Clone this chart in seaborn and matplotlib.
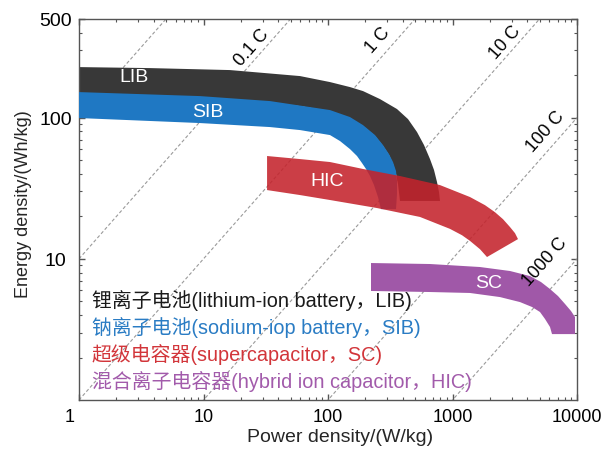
import numpy as np
import pandas as pd
import matplotlib
matplotlib.use("Agg")
import matplotlib.pyplot as plt
from matplotlib.transforms import ScaledTranslation
import seaborn as sns

# ---- Ragone data: boundary edges of each device region (P in W/kg, E in Wh/kg) ----
lib_upper_p = [1, 3.72, 16.3, 59.6, 103.8, 150.2, 191.1, 261.6, 358.3, 439.2, 518.7,
               590.3, 659.6, 710.3, 750.8, 779.1, 793.6]
lib_upper_e = [228.2, 224.5, 217.4, 197.1, 178.7, 164.7, 154.3, 135.4, 115.1, 97.7, 79.1,
               64.0, 50.9, 42.6, 35.0, 29.7, 25.7]
lib_lower_p = [1, 16.3, 59.6, 103.8, 150.2, 191.1, 238.5, 276.6, 309.0, 332.8, 351.8,
               365.0, 378.7]
lib_lower_e = [144.6, 135.4, 120.8, 111.4, 99.4, 87.2, 74.1, 62.9, 54.3, 46.9, 39.9,
               33.9, 25.7]

sib_upper_p = [1, 9.37, 34.2, 103.8, 150.2, 191.1, 238.5, 276.6, 309.0, 332.8, 351.8,
               358.3, 358.3, 351.8]
sib_upper_e = [151.8, 142.2, 131.1, 113.2, 101.0, 88.6, 75.3, 64.0, 55.2, 48.5, 41.9,
               35.6, 28.8, 22.5]
sib_lower_p = [1, 9.37, 34.2, 59.6, 103.8, 124.9, 150.2, 171.0, 187.6, 202.0, 217.5,
               234.2, 252.1, 266.5]
sib_lower_e = [99.4, 91.6, 85.8, 81.7, 75.3, 68.3, 59.9, 53.5, 47.7, 43.3, 38.6,
               33.3, 27.4, 22.5]

hic_upper_p = [32.4, 59.6, 103.8, 191.1, 378.7, 793.6, 1382, 1824, 2194, 2544, 2896,
               3177, 3358]
hic_upper_e = [53.5, 50.9, 48.5, 43.3, 38.6, 33.3, 27.4, 24.0, 21.4, 19.1, 16.8,
               15.2, 13.8]
hic_lower_p = [32.4, 59.6, 103.8, 247.5, 548.3, 954.8, 1192, 1382, 1663, 1893]
hic_lower_e = [30.7, 28.3, 26.1, 22.9, 19.8, 16.3, 14.7, 13.4, 11.7, 10.3]

sc_upper_p = [221.5, 659.6, 1663, 2896, 4193, 5138, 6070, 7038, 8010, 8949, 9637, 9637]
sc_upper_e = [9.34, 9.19, 8.75, 8.20, 7.55, 6.85, 6.11, 5.45, 4.79, 4.27, 3.87, 2.93]
sc_lower_p = [221.5, 659.6, 1382, 2407, 3485, 4351, 5044, 5533, 6070, 6299]
sc_lower_e = [5.92, 5.82, 5.73, 5.36, 4.94, 4.56, 4.20, 3.75, 3.29, 2.93]

# C-rate guide lines (E = P / C)
c_rates = [0.01, 0.1, 1, 10, 100, 1000]
c_labels = ["0.1 C", "1 C", "10 C", "100 C", "1000 C"]

x_ticks = [1, 10, 100, 1000, 10000]
x_tick_labels = ["1", "10", "100", "1000", "10000"]
y_ticks = [10, 100, 500]
y_tick_labels = ["10", "100", "500"]

legend_lines = [
    "锂离子电池(lithium-ion battery，LIB)",
    "钠离子电池(sodium-iop battery，SIB)",
    "超级电容器(supercapacitor，SC)",
    "混合离子电容器(hybrid ion capacitor，HIC)",
]

# ---- styling ----
sns.set_theme(style="ticks")
plt.rcParams["font.family"] = ["Liberation Sans", "Noto Sans CJK SC"]
plt.rcParams["axes.unicode_minus"] = False

col_lib = "#383838"
col_sib = "#1f78c3"
col_hic = "#c4232c"
col_sc = "#a058a8"

fig = plt.figure(figsize=(6.1, 4.52), dpi=100)
ax = fig.add_axes([79 / 610, 1 - 401 / 452, 498 / 610, 381 / 452])
ax.set_xscale("log")
ax.set_yscale("log")
ax.set_xlim(1, 10000)
ax.set_ylim(1, 500)

# dashed C-rate lines
p_span = np.array([1.0, 10000.0])
rate_df = pd.concat(
    [pd.DataFrame({"P": p_span, "E": p_span / c, "rate": str(c)}) for c in c_rates],
    ignore_index=True,
)
for r, sub in rate_df.groupby("rate"):
    sns.lineplot(data=sub, x="P", y="E", ax=ax, color="#9a9a9a", lw=0.8,
                 linestyle=(0, (3, 2)), zorder=1, legend=False)


def band(up_p, up_e, lo_p, lo_e, color, alpha=1.0, z=2):
    xs = list(up_p) + list(lo_p)[::-1]
    ys = list(up_e) + list(lo_e)[::-1]
    ax.fill(xs, ys, color=color, lw=0, alpha=alpha, zorder=z)


band(lib_upper_p, lib_upper_e, lib_lower_p, lib_lower_e, col_lib, z=2)
band(sib_upper_p, sib_upper_e, sib_lower_p, sib_lower_e, col_sib, z=3)
band(sc_upper_p, sc_upper_e, sc_lower_p, sc_lower_e, col_sc, z=3)
band(hic_upper_p, hic_upper_e, hic_lower_p, hic_lower_e, col_hic, alpha=0.88, z=4)

# region names
lbl_kw = dict(color="white", fontsize=14, ha="center", va="center", zorder=6)
ax.text(2.77, 197, "LIB", **lbl_kw)
ax.text(10.9, 111, "SIB", **lbl_kw)
ax.text(98, 36.1, "HIC", **lbl_kw)
ax.text(1963, 6.85, "SC", **lbl_kw)

# C-rate labels, rotated along the guide lines
ax_w = 498.0 / 4.0            # px per decade in x
ax_h = 381.0 / np.log10(500)  # px per decade in y
angle = np.degrees(np.arctan2(ax_h, ax_w))
c_pos = [(24.5, 316), (252, 355), (2641, 343), (5637, 80.4), (5531, 9.65)]
for (px, ey), txt in zip(c_pos, c_labels):
    ax.text(px, ey, txt, rotation=angle, rotation_mode="anchor", ha="center",
            va="center", fontsize=13, color="black", zorder=6)

# description lines
legend_colors = ["#1a1a1a", "#2a7cc4", "#d2353a", "#a25bab"]
legend_y = [0.265, 0.192, 0.121, 0.050]
for txt, c, yy in zip(legend_lines, legend_colors, legend_y):
    ax.text(0.026, yy, txt, transform=ax.transAxes, color=c, fontsize=14.3,
            ha="left", va="center", zorder=6)

# axes, ticks
ax.set_xticks(x_ticks)
ax.set_xticklabels(x_tick_labels)
ax.set_yticks(y_ticks)
ax.set_yticklabels(y_tick_labels)
ax.tick_params(which="both", direction="in", top=True, right=True, color="#555555",
               labelcolor="black")
ax.tick_params(axis="x", labelsize=13, pad=6)
ax.tick_params(axis="y", labelsize=14, pad=17)
ax.tick_params(which="major", length=4, width=1)
ax.tick_params(which="minor", length=2.5, width=0.8)
for t in ax.get_yticklabels():
    t.set_ha("center")
first = ax.get_xticklabels()[0]
first.set_transform(first.get_transform() + ScaledTranslation(-9 / 100, 0, fig.dpi_scale_trans))

for s in ax.spines.values():
    s.set_color("#555555")
    s.set_linewidth(1.0)

ax.set_xlabel("Power density/(W/kg)", fontsize=14)
ax.set_ylabel("Energy density/(Wh/kg)", fontsize=13)
ax.xaxis.set_label_coords((340 - 79) / 498, -(429 - 401) / 381)
ax.yaxis.set_label_coords(-(79 - 32) / 498, 0.517)
ax.grid(False)

fig.savefig("out.png", dpi=100, facecolor="white")
